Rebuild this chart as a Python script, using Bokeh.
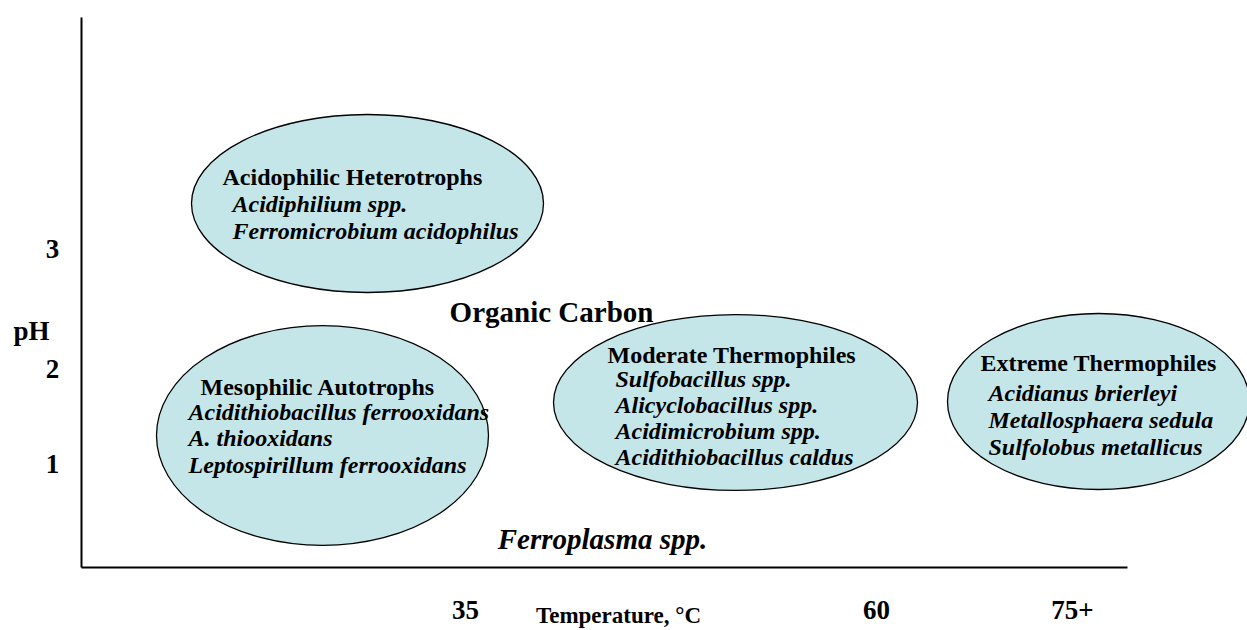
from bokeh.plotting import figure
from bokeh.models import Range1d
from bokeh.core.properties import value
from bokeh.embed import file_html
from bokeh.resources import INLINE

# ---- data (diagram coordinates: x = temperature position, y = pH position) ----
groups = ["Acidophilic Heterotrophs", "Mesophilic Autotrophs",
          "Moderate Thermophiles", "Extreme Thermophiles"]
species = [
    ["Acidiphilium spp.", "Ferromicrobium acidophilus"],
    ["Acidithiobacillus ferrooxidans", "A. thiooxidans", "Leptospirillum ferrooxidans"],
    ["Sulfobacillus spp.", "Alicyclobacillus spp.", "Acidimicrobium spp.",
     "Acidithiobacillus caldus"],
    ["Acidianus brierleyi", "Metallosphaera sedula", "Sulfolobus metallicus"],
]
group_x = [367, 322, 735, 1098]
group_y = [203, 435, 402, 401]
group_w = [352, 332, 364, 302]
group_h = [178, 220, 176, 176]

x_tick_pos = [465, 876, 1072]
x_tick_labels = ["35", "60", "75+"]
y_tick_pos = [248, 368, 463]
y_tick_labels = ["3", "2", "1"]

free_labels = ["Organic Carbon", "Ferroplasma spp."]

# ---- layout ----
W, H = 1247, 630
p = figure(width=W, height=H, output_backend="svg", toolbar_location=None,
           x_range=Range1d(0, W), y_range=Range1d(H, 0),
           min_border=0, min_border_left=0, min_border_right=0,
           min_border_top=0, min_border_bottom=0)
p.axis.visible = False
p.grid.visible = False
p.outline_line_color = None
p.background_fill_color = "white"
p.border_fill_color = "white"

FONT = value("Liberation Serif")

# axes lines
axis_x0, axis_y0 = 81, 567
p.segment(x0=[axis_x0, axis_x0], y0=[17, axis_y0], x1=[axis_x0, 1127], y1=[axis_y0, axis_y0],
          line_color="black", line_width=2)

# ellipses
p.ellipse(x=group_x, y=group_y, width=group_w, height=group_h,
          fill_color="#C5E6E9", line_color="black", line_width=1.3)

# group headers and species (offsets from each ellipse centre)
hdr_dx = [-145, -122, -128, -118]
hdr_dy = [-27, -49, -48, -39]
sp_dx = [-135, -134, -120, -110]
sp_dy0 = [0, -24, -24, -9]
sp_step = [27, 26.5, 26.3, 27]

hx, hy, sx, sy, st = [], [], [], [], []
for i, g in enumerate(groups):
    hx.append(group_x[i] + hdr_dx[i])
    hy.append(group_y[i] + hdr_dy[i])
    for j, s in enumerate(species[i]):
        sx.append(group_x[i] + sp_dx[i])
        sy.append(group_y[i] + sp_dy0[i] + j * sp_step[i])
        st.append(s)

p.text(x=hx, y=hy, text=groups, text_font=FONT, text_font_style="bold",
       text_font_size="24px", text_align="left", text_baseline="middle", text_color="black")
p.text(x=sx, y=sy, text=st, text_font=FONT, text_font_style="bold italic",
       text_font_size="24px", text_align="left", text_baseline="middle", text_color="black")

# free labels
p.text(x=[551], y=[311], text=[free_labels[0]], text_font=FONT, text_font_style="bold",
       text_font_size="29px", text_align="center", text_baseline="middle")
p.text(x=[602], y=[538], text=[free_labels[1]], text_font=FONT, text_font_style="bold italic",
       text_font_size="29px", text_align="center", text_baseline="middle")

# tick labels
p.text(x=x_tick_pos, y=[609] * 3, text=x_tick_labels, text_font=FONT, text_font_style="bold",
       text_font_size="27px", text_align="center", text_baseline="middle")
p.text(x=[52] * 3, y=y_tick_pos, text=y_tick_labels, text_font=FONT, text_font_style="bold",
       text_font_size="27px", text_align="center", text_baseline="middle")

# axis titles
p.text(x=[618], y=[615], text=["Temperature, °C"], text_font=FONT, text_font_style="bold",
       text_font_size="23px", text_align="center", text_baseline="middle")
p.text(x=[31], y=[330], text=["pH"], text_font=FONT, text_font_style="bold",
       text_font_size="27px", text_align="center", text_baseline="middle")

open("out.html", "w").write(file_html(p, INLINE))
